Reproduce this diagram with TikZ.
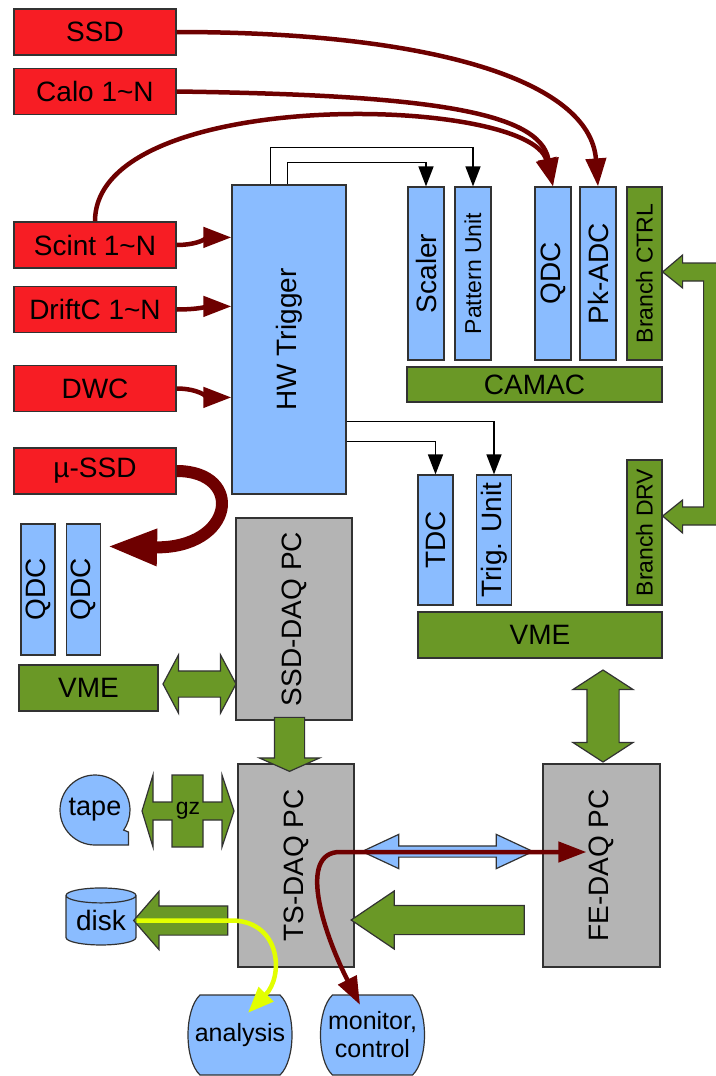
\documentclass[tikz,border=0pt]{standalone}
\usepackage{fontspec}
\setmainfont{Liberation Sans}
\usetikzlibrary{calc,shapes,shapes.geometric,shapes.arrows,arrows.meta,positioning,backgrounds}
\definecolor{detred}{RGB}{247,29,36}
\definecolor{modblue}{RGB}{138,188,255}
\definecolor{busgreen}{RGB}{106,152,38}
\definecolor{pcgray}{RGB}{180,180,180}
\definecolor{wirered}{RGB}{110,0,0}
\definecolor{lineyel}{RGB}{226,255,0}
\definecolor{edge}{RGB}{50,50,50}

\tikzset{
  blk/.style={draw=edge,line width=1.2pt,inner sep=0pt,font=\fontsize{28}{28}\selectfont},
  det/.style={blk,fill=detred,minimum width=162pt,minimum height=46pt},
  module/.style={blk,fill=modblue,minimum width=36pt},
  branch/.style={blk,fill=busgreen,minimum width=35pt,font=\fontsize{23}{23}\selectfont},
  crate/.style={blk,fill=busgreen,minimum height=35pt},
  pc/.style={blk,fill=pcgray,minimum width=116pt,minimum height=203pt},
  wire/.style={draw=wirered,line width=4.5pt,>={Triangle[length=28pt,width=20pt]},->},
  bigwire/.style={draw=wirered,line width=12pt,-{Triangle[length=50pt,width=34pt]}},
  sig/.style={draw=black,line width=1.5pt,-{Triangle[length=20pt,width=15pt]}},
  fat/.style={draw=edge,line width=1.2pt,fill=busgreen,inner xsep=0pt},
  label/.style={inner sep=0pt,font=\fontsize{25}{28}\selectfont}
}

\begin{document}
\begin{tikzpicture}[x=1pt,y=-1pt]
\useasboundingbox (0,0) rectangle (715,1076);

\foreach \i / \y / \element in {1/32/SSD,2/91.5/{Calo 1\textasciitilde N},3/245/{Scint 1\textasciitilde N},4/309.5/{DriftC 1\textasciitilde N},5/388.5/DWC,6/471/{µ-SSD}}
  \node[det] (e\i) at (95,\y) {\element};

\node[blk,fill=modblue,minimum width=114pt,minimum height=309pt] (hw) at (289,339.5) {\rotatebox{90}{HW Trigger}};

\foreach \n / \x / \fs / \element in {sc/426/28/Scaler,pu/473/23/{Pattern Unit},qc/553/28/QDC,pk/598/28/Pk-ADC}
  \node[module,minimum height=173pt,font=\fontsize{\fs}{\fs}\selectfont] (\n) at (\x,273.5) {\rotatebox{90}{\element}};
\node[branch,minimum height=173pt] (bc) at (644.5,273.5) {\rotatebox{90}{Branch CTRL}};
\node[crate,minimum width=255pt] (camac) at (534.5,384.5) {CAMAC};

\foreach \n / \x / \element in {tdc/435.5/TDC,tu/494/{Trig. Unit}}
  \node[module,minimum width=35pt,minimum height=130pt] (\n) at (\x,540) {\rotatebox{90}{\element}};
\node[branch,minimum height=145pt] (bd) at (644.5,532.5) {\rotatebox{90}{Branch DRV}};
\node[crate,minimum width=244pt,minimum height=46pt] (vme) at (540,635) {VME};

\foreach \n / \x in {q1/38,q2/83.5}
  \node[module,minimum width=34pt,minimum height=131pt] (\n) at (\x,589.5) {\rotatebox{90}{QDC}};
\node[crate,minimum width=139pt,minimum height=46pt] (vmes) at (88.5,688) {VME};

\node[pc,minimum height=202pt] (ssdpc) at (294,619) {\rotatebox{90}{SSD-DAQ PC}};
\node[pc] (tspc) at (296,865.5) {\rotatebox{90}{TS-DAQ PC}};
\node[pc,minimum width=117pt] (fepc) at (601.5,865.5) {\rotatebox{90}{FE-DAQ PC}};

\node[label,font=\fontsize{27}{27}\selectfont] (tape) at (95,810) {tape};
\node[label,font=\fontsize{23}{23}\selectfont] (gz) at (188,811) {gz};
\node[blk,cylinder,shape border rotate=90,aspect=0.3,fill=modblue,minimum width=70pt,minimum height=57pt] (disk) at (101,920.5) {disk};
\node[label,minimum width=88pt,minimum height=80pt] (ana) at (240,1035) {analysis};
\node[label,minimum width=88pt,minimum height=80pt,align=center] (mon) at (372.5,1035) {monitor,\\control};

\begin{scope}[on background layer]
\draw[blk,fill=modblue,shift={(tape.center)}] (0,35) arc[start angle=90,end angle=395,radius=35] -- (33.5,22) -- (33.5,35) -- cycle;
\draw[fat,shift={(gz.center)}] (-46,0) -- (-35,-36) -- (-35,-9) -- (-16,-9) -- (-16,-36) -- (15,-36) -- (15,-9) -- (34,-9) -- (34,-36) -- (46,0) -- (34,36) -- (34,9) -- (15,9) -- (15,36) -- (-16,36) -- (-16,9) -- (-35,9) -- (-35,36) -- cycle;
\foreach \n in {ana,mon}
  \draw[blk,fill=modblue,shift={(\n.center)}] (-40,-40) -- (40,-40) .. controls (56,-25) and (56,25) .. (40,40) -- (-40,40) .. controls (-56,25) and (-56,-25) .. cycle;
\end{scope}

\draw[sig] ($(hw.north west)+(39,0)$) -- ++(0,-37) -| (pu.north);
\draw[sig] ($(hw.north west)+(56,0)$) -- ++(0,-22) -| (sc.north);
\draw[sig] ($(hw.north east)+(0,237)$) -| (tu.north);
\draw[sig] ($(hw.north east)+(0,257)$) -| (tdc.north);

\draw[wire] (e1.east) .. controls (430,32) and (590,80) .. (pk.north);
\draw[wire] (e2.east) .. controls (420,95) and (540,110) .. (qc.north);
\draw[wire] (e3.north) .. controls (95,85) and (530,95) .. (qc.north);
\draw[wire] (e3.east) to[out=0,in=180] ($(hw.north west)+(0,53)$);
\draw[wire] (e4.east) to[out=0,in=180] ($(hw.north west)+(0,122)$);
\draw[wire] (e5.east) to[out=0,in=180] ($(hw.north west)+(0,213)$);

\coordinate (qtip) at ($(q2.north east)+(6,23)$);
\draw[bigwire] (e6.east) .. controls (245,471) and (235,549) .. (qtip);

\coordinate (ctip) at ($(bc.east)+(0,-1.5)$);
\coordinate (dtip) at ($(bd.east)+(0,-16.5)$);
\draw[fat] (ctip) -- ++(20,-17) -- ++(0,8) -- ++(39,0) -- ++(0,262) -- ++(-39,0) -- ++(0,8) -- (dtip) -- ++(20,-16) -- ++(0,7) -- ++(21,0) -- ++(0,-226) -- ++(-21,0) -- ++(0,7) -- cycle;

\node[fat,double arrow,inner ysep=12.5pt,minimum height=73pt,double arrow head extend=16pt,double arrow tip angle=124] (slink) at ($(vmes.east)!.5!(vmes.east -| ssdpc.west)+(2.5,-4)$) {};
\node[fat,single arrow,rotate=-90,inner ysep=14.5pt,minimum height=54pt,single arrow head extend=15pt,single arrow tip angle=132] (sdown) at ($(ssdpc.south)!.5!(tspc.north)+(-5.5,-1)$) {};
\node[fat,double arrow,rotate=90,inner ysep=15.5pt,minimum height=92pt,double arrow head extend=14pt,double arrow tip angle=114] (flink) at ($(fepc.north)!.5!(fepc.north |- vme.south)+(1.5,5)$) {};
\node[fat,single arrow,rotate=180,inner ysep=14pt,minimum height=94pt,single arrow head extend=14.5pt,single arrow tip angle=98] (dout) at ($(disk.east)!.5!(disk.east -| tspc.west)$) {};
\node[fat,single arrow,rotate=180,inner ysep=14pt,minimum height=173pt,single arrow head extend=14.5pt,single arrow tip angle=68] (fout) at ($(fepc.west)!.5!(tspc.east)+(0,54.5)$) {};
\node[fat,fill=modblue,double arrow,inner ysep=5pt,minimum height=171pt,double arrow head extend=11.5pt,double arrow tip angle=50] (net) at ($(fepc.west)!.5!(tspc.east)+(-1,-14)$) {};

\coordinate (ftip) at ($(fepc.west)+(44,-13.5)$);
\coordinate (mtip) at ($(mon.north)+(-12.5,10)$);
\draw[wire,<->] (mtip) .. controls (322,930) and (298,852) .. (340,852) -- (ftip);

\coordinate (atip) at ($(ana.north)+(8,18)$);
\draw[draw=lineyel,line width=4.5pt,-{Triangle[length=26pt,width=20pt]}] (disk.east) -- ++(97,0) .. controls +(47,2) and +(36,-37) .. (atip);

\end{tikzpicture}
\end{document}
